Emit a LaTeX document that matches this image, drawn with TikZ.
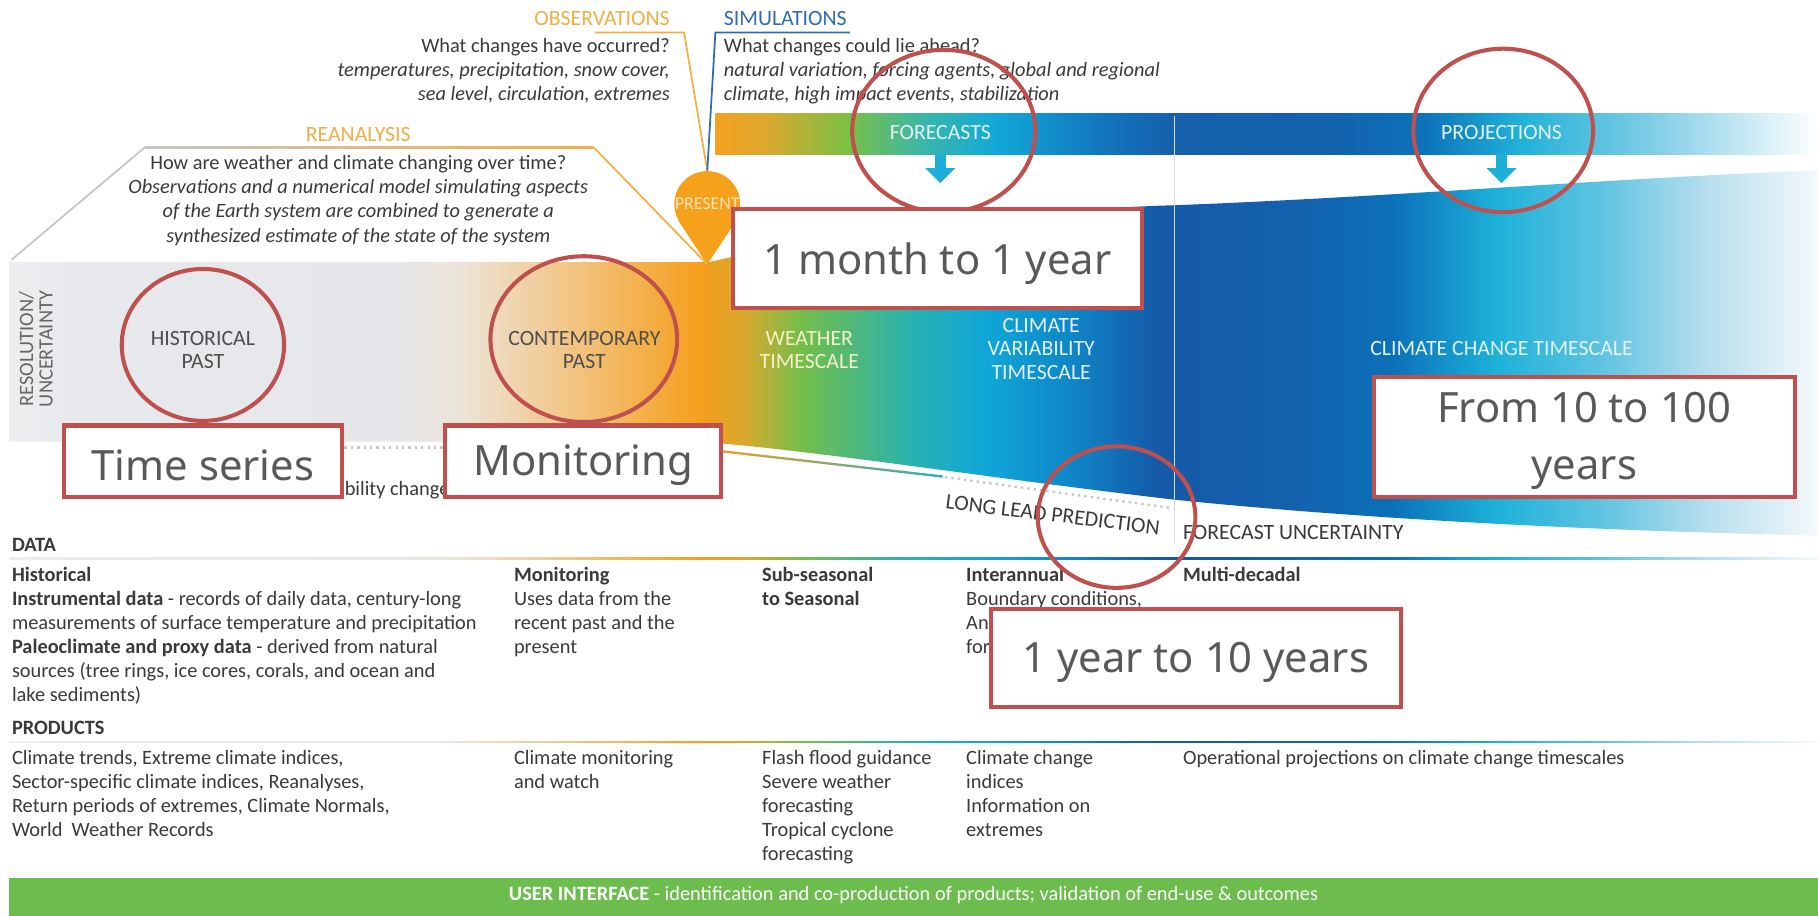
\documentclass[tikz,border=0pt]{standalone}
\usepackage{fontspec}
\setmainfont{Carlito}
\newfontfamily\notefont{Noto Sans}
\usetikzlibrary{arrows.meta}

\definecolor{txtgray}{HTML}{3A3A3A}
\definecolor{softgray}{HTML}{666666}
\definecolor{lblorange}{HTML}{F3AE45}
\definecolor{lblblue}{HTML}{2F6DB3}
\definecolor{pinorange}{HTML}{F5A11C}
\definecolor{pintxt}{HTML}{FBE3B8}
\definecolor{linegray}{HTML}{C6C6C6}
\definecolor{divider}{HTML}{D5D9E0}
\definecolor{tealline}{HTML}{2AAFB5}
\definecolor{dropcyan}{HTML}{1DAFD9}
\definecolor{uigreen}{HTML}{6CBD4E}
\definecolor{markred}{HTML}{C0504D}
\definecolor{marktxt}{HTML}{595959}
\definecolor{creamtxt}{HTML}{F4F0C8}
\definecolor{icetxt}{HTML}{E2F2F8}

% colours of the timescale band, left to right
\definecolor{bandA}{HTML}{EDEEF0}
\definecolor{bandB}{HTML}{E8E9EC}
\definecolor{bandC}{HTML}{E6E7EA}
\definecolor{bandD}{HTML}{ECE3D6}
\definecolor{bandE}{HTML}{F1CC98}
\definecolor{bandF}{HTML}{F4AE45}
\definecolor{bandG}{HTML}{F59E1C}
\definecolor{bandH}{HTML}{D9A92E}
\definecolor{bandI}{HTML}{73BE4A}
\definecolor{bandJ}{HTML}{26B1B3}
\definecolor{bandK}{HTML}{10A6D8}
\definecolor{bandL}{HTML}{0F88C9}
\definecolor{bandM}{HTML}{1559A8}
\definecolor{bandN}{HTML}{1462AE}
\definecolor{bandO}{HTML}{0B70B8}
\definecolor{bandP}{HTML}{1DB1D9}
\definecolor{bandQ}{HTML}{5EC3E1}
\definecolor{bandR}{HTML}{B5DEEE}
\definecolor{bandS}{HTML}{F4F9FC}
% colours of the forecasts/projections bar
\definecolor{barA}{HTML}{F4A11F}
\definecolor{barB}{HTML}{DDA72E}
\definecolor{barC}{HTML}{7CC043}
\definecolor{barD}{HTML}{36B6AE}
\definecolor{barE}{HTML}{12A8D8}
\definecolor{barF}{HTML}{1276BE}
\definecolor{barG}{HTML}{1660AC}
\definecolor{barH}{HTML}{1262AD}
\definecolor{barI}{HTML}{0D74BA}
\definecolor{barJ}{HTML}{20B1D8}
\definecolor{barK}{HTML}{7BCCE5}
\definecolor{barL}{HTML}{FFFFFF}

\pgfdeclarehorizontalshading{bandfill}{100bp}{color(0bp)=(bandA); color(25bp)=(bandA); color(26.67bp)=(bandB); color(35.64bp)=(bandC); color(37.56bp)=(bandD); color(39.81bp)=(bandE); color(42.69bp)=(bandF); color(44.13bp)=(bandG); color(45.3bp)=(bandH); color(46.9bp)=(bandI); color(50.06bp)=(bandJ); color(51.99bp)=(bandK); color(54.23bp)=(bandL); color(56.79bp)=(bandM); color(60.64bp)=(bandN); color(63.21bp)=(bandO); color(66.09bp)=(bandP); color(68.97bp)=(bandQ); color(71.86bp)=(bandR); color(75bp)=(bandS); color(100bp)=(bandS)}
\pgfdeclarehorizontalshading{barfill}{100bp}{color(0bp)=(barA); color(25bp)=(barA); color(27.26bp)=(barB); color(30.94bp)=(barC); color(34.62bp)=(barD); color(37.78bp)=(barE); color(42.51bp)=(barF); color(45.82bp)=(barG); color(53.02bp)=(barH); color(57.23bp)=(barI); color(61.43bp)=(barJ); color(67.22bp)=(barK); color(75bp)=(barL); color(100bp)=(barL)}

\tikzset{
  body/.style={inner sep=0pt, text=txtgray, font=\fontsize{10}{11.8}\selectfont},
  bodybold/.style={body, font=\fontsize{10}{11.8}\selectfont\bfseries},
  capslabel/.style={inner sep=0pt, font=\fontsize{10.7}{11.4}\selectfont},
  guide/.style={line width=0.03cm},
  ring/.style={draw=markred, line width=0.07cm},
  markbox/.style={draw=markred, fill=white, line width=0.07cm},
  marktext/.style={inner sep=0pt, text=marktxt, align=center, font=\notefont\fontsize{20.5}{28}\selectfont},
  droparrow/.style={dropcyan, line width=0.2cm, -{Triangle[width=0.5cm,length=0.26cm]}},
}

\begin{document}
\begin{tikzpicture}[x=0.02cm,y=-0.02cm]
\fill[white] (0,0) rectangle (1568,790);
\useasboundingbox (0,0) rectangle (1568,790);

% timescale band and forecast bar
\shade[shading=bandfill] (8,226) -- (612,226)
  .. controls (700,205) and (850,182) .. (1013,177)
  .. controls (1200,170) and (1400,153) .. (1568,147)
  -- (1568,462) .. controls (1400,458) and (1200,450) .. (1013,431)
  .. controls (850,412) and (700,388) .. (604,381) -- (8,381) -- cycle;
\shade[shading=barfill] (617,98) rectangle (1568,133);
\draw[divider, line width=0.025cm] (1013,100) -- (1013,470);

% present pin and the lines that meet it
\node[circle, fill=pinorange, minimum size=1.04cm, inner sep=0pt, text=pintxt,
  font=\fontsize{8.8}{9}\selectfont] (present) at (610,176) {PRESENT};
\coordinate (presenttip) at (610,228);
\fill[pinorange] (present.210) -- (presenttip) -- (present.330) -- cycle;
\coordinate (obsL) at (513,28);
\coordinate (obsR) at (590,28);
\coordinate (simL) at (617,28);
\coordinate (simR) at (733,28);
\coordinate (reanL) at (125,127);
\coordinate (reanR) at (512,127);
\coordinate (reanfoot) at (10,224);
\draw[guide, lblorange] (obsL) -- (obsR) -- (present.north);
\draw[guide, lblblue] (simR) -- (simL) -- (present.north);
\draw[guide, linegray] (reanfoot) -- (reanL);
\shade[left color=linegray, right color=lblorange] (125,126.2) rectangle (512,127.8);
\draw[guide, lblorange] (reanR) -- (presenttip);

% headings above the band
\node[capslabel, text=lblorange, anchor=east] (obslabel) at (578,16) {OBSERVATIONS};
\node[capslabel, text=lblblue, anchor=west] (simlabel) at (624,16) {SIMULATIONS};
\node[capslabel, text=lblorange] (reanlabel) at (309,116) {REANALYSIS};
\node[body, anchor=north east, align=right] (obstext) at (578,33)
  {What changes have occurred?\\
   \textit{temperatures, precipitation, snow cover,}\\
   \textit{sea level, circulation, extremes}};
\node[body, anchor=north west, align=left] (simtext) at (624,33)
  {What changes could lie ahead?\\
   \textit{natural variation, forcing agents, global and regional}\\
   \textit{climate, high impact events, stabilization}};
\node[body, anchor=north, align=center] (reantext) at (309,134)
  {How are weather and climate changing over time?\\
   \textit{Observations and a numerical model simulating aspects}\\
   \textit{of the Earth system are combined to generate a}\\
   \textit{synthesized estimate of the state of the system}};

% labels in the band
\node[capslabel, text=icetxt] (forecasts) at (811,114) {FORECASTS};
\node[capslabel, text=icetxt] (projections) at (1295,114) {PROJECTIONS};
\coordinate (fcbase) at (811,133);
\coordinate (fcpoint) at (811,158);
\coordinate (pjbase) at (1295,133);
\coordinate (pjpoint) at (1295,158);
\draw[droparrow] (fcbase) -- (fcpoint);
\draw[droparrow] (pjbase) -- (pjpoint);
\node[capslabel, text=softgray, rotate=90, align=center, font=\fontsize{10}{9.6}\selectfont]
  (resol) at (31,301) {RESOLUTION/\\UNCERTAINTY};
\node[capslabel, text=txtgray!90, align=center] (histpast) at (175,302) {HISTORICAL\\PAST};
\node[capslabel, text=txtgray!90, align=center] (contpast) at (504,302) {CONTEMPORARY\\PAST};
\node[capslabel, text=creamtxt, align=center] (weather) at (698,302) {WEATHER\\TIMESCALE};
\node[capslabel, text=icetxt, align=center] (climvar) at (898,301) {CLIMATE\\VARIABILITY\\TIMESCALE};
\node[capslabel, text=icetxt] (climchange) at (1295,301) {CLIMATE CHANGE TIMESCALE};

% under the band
\draw[linegray, dotted, line width=0.04cm] (60,386) -- (600,386);
\shade[left color=pinorange, right color=tealline] (612,387) -- (813,410) -- (813,412) -- (612,389) -- cycle;
\draw[linegray, dotted, line width=0.04cm] (815,411.5) -- (1010,438);
\node[body, anchor=west] (varchange) at (297,423) {bility change};
\node[capslabel, text=txtgray, rotate=-7] (longlead) at (908,444) {LONG LEAD PREDICTION};
\node[capslabel, text=txtgray, anchor=west] (fcunc) at (1020,459) {FORECAST UNCERTAINTY};

% data
\node[bodybold, anchor=west] (datahead) at (10,470) {DATA};
\shade[shading=bandfill] (8,480.7) rectangle (1568,482.3);
\node[body, anchor=north west, align=left] (dataA) at (10,489)
  {\textbf{Historical}\\
   \textbf{Instrumental data} - records of daily data, century-long\\
   measurements of surface temperature and precipitation\\
   \textbf{Paleoclimate and proxy data} - derived from natural\\
   sources (tree rings, ice cores, corals, and ocean and\\
   lake sediments)};
\node[body, anchor=north west, align=left] (dataB) at (443,489)
  {\textbf{Monitoring}\\Uses data from the\\recent past and the\\present};
\node[body, anchor=north west, align=left] (dataC) at (657,489)
  {\textbf{Sub-seasonal}\\\textbf{to Seasonal}};
\node[body, anchor=north west, align=left] (dataD) at (833,489)
  {\textbf{Interannual}\\Boundary conditions,\\An\\for};
\node[body, anchor=north west, align=left] (dataE) at (1020,489)
  {\textbf{Multi-decadal}};

% products
\node[bodybold, anchor=west] (prodhead) at (10,628) {PRODUCTS};
\shade[shading=bandfill] (8,639.2) rectangle (1568,640.8);
\node[body, anchor=north west, align=left] (prodA) at (10,647)
  {Climate trends, Extreme climate indices,\\
   Sector-specific climate indices, Reanalyses,\\
   Return periods of extremes, Climate Normals,\\
   World\ \ Weather Records};
\node[body, anchor=north west, align=left] (prodB) at (443,647)
  {Climate monitoring\\and watch};
\node[body, anchor=north west, align=left] (prodC) at (657,647)
  {Flash flood guidance\\Severe weather\\forecasting\\Tropical cyclone\\forecasting};
\node[body, anchor=north west, align=left] (prodD) at (833,647)
  {Climate change\\indices\\Information on\\extremes};
\node[body, anchor=north west, align=left] (prodE) at (1020,647)
  {Operational projections on climate change timescales};

% user interface bar
\fill[uigreen] (8,757) rectangle (1568,790);
\node[body, text=white] (uitext) at (788,772)
  {\textbf{USER INTERFACE} - identification and co-production of products; validation of end-use \& outcomes};

% red markings
\draw[ring] (814,113) ellipse (79 and 70);
\draw[ring] (1296.5,112.5) ellipse (77.5 and 70.5);
\draw[ring] (175,297.5) ellipse (70 and 65.5);
\draw[ring] (503.5,292.5) ellipse (80.5 and 71.5);
\draw[ring] (963,446) ellipse (68 and 61);

\draw[markbox] (632,180) rectangle (985,266);
\node[marktext] (monthyear) at (808.5,227) {1 month to 1 year};
\draw[markbox] (55,367) rectangle (295,429);
\node[marktext] (timeseries) at (175,401) {Time series};
\draw[markbox] (384,367) rectangle (622,429);
\node[marktext] (monitoring) at (503,401) {Monitoring};
\draw[markbox] (1185,325) rectangle (1548,429);
\node[marktext] (decades) at (1366.5,380) {From 10 to 100\\years};
\draw[markbox] (855,525) rectangle (1208,610);
\node[marktext] (yearsten) at (1031.5,571) {1 year to 10 years};
\end{tikzpicture}
\end{document}
